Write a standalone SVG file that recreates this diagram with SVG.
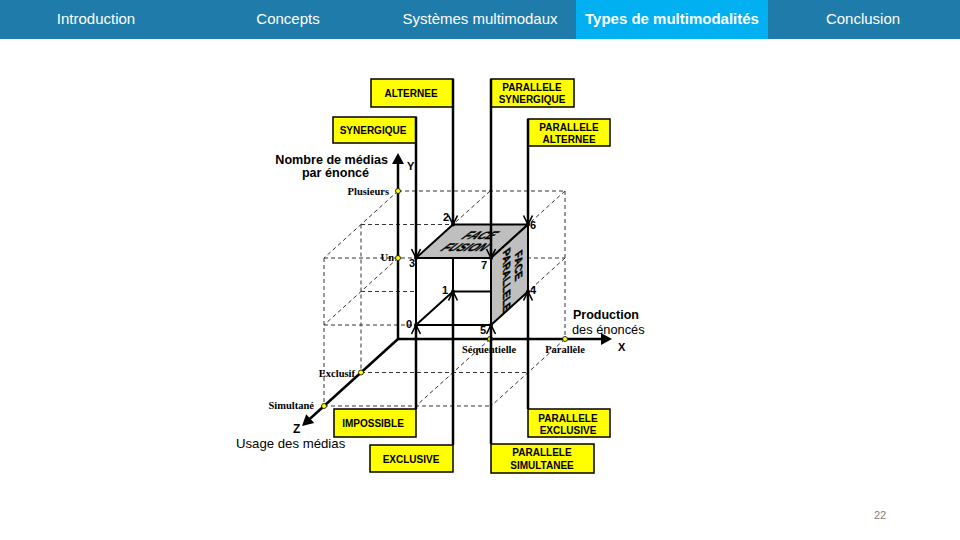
<svg xmlns="http://www.w3.org/2000/svg" width="960" height="540" viewBox="0 0 960 540">
<style>
.nav{font-family:"Liberation Sans",Arial,sans-serif;font-size:15px;fill:#fff;text-anchor:middle}
.box{fill:#ffff00;stroke:#000;stroke-width:1.5}
.bt{font-family:"Liberation Sans",Arial,sans-serif;font-size:10px;font-weight:bold;fill:#000;text-anchor:middle}
.dash{stroke:#333;stroke-width:1;stroke-dasharray:4 3;fill:none}
.axis{stroke:#000;stroke-width:2.5;fill:none}
.thick{stroke:#000;stroke-width:2.5;fill:none}
.edge{stroke:#000;stroke-width:2;fill:none}
.face{fill:#bfbfbf;stroke:#000;stroke-width:2;stroke-linejoin:round}
.serif{font-family:"Liberation Serif","Times New Roman",serif;font-size:10.5px;font-weight:bold;fill:#000}
.num{font-family:"Liberation Sans",Arial,sans-serif;font-size:11px;font-weight:bold;fill:#000}
.ax{font-family:"Liberation Sans",Arial,sans-serif;fill:#000}
.pt{fill:#ffff00;stroke:#000;stroke-width:0.8}
.ft{font-family:"Liberation Sans",Arial,sans-serif;font-style:italic;font-weight:bold;fill:#000;stroke:#000;stroke-width:0.4;text-anchor:middle}
</style>
<defs>
<marker id="v" viewBox="-11 -6 12 12" refX="0" refY="0" markerWidth="12" markerHeight="12" markerUnits="userSpaceOnUse" orient="auto">
<path d="M-9,-4.5 L0,0 L-9,4.5" fill="none" stroke="#000" stroke-width="1.6"/>
</marker>
<marker id="tri" viewBox="-8 -7 13 14" refX="0" refY="0" markerWidth="13" markerHeight="14" markerUnits="userSpaceOnUse" orient="auto">
<path d="M-7,-6 L4,0 L-7,6 Z" fill="#000"/>
</marker>
</defs>

<g id="header">
<rect x="0" y="0" width="960" height="39" fill="#1F7BAA"/>
<rect x="576" y="0" width="192" height="39" fill="#00B0F0"/>
<text class="nav" x="96" y="24">Introduction</text>
<text class="nav" x="288" y="24">Concepts</text>
<text class="nav" x="480" y="24">Systèmes multimodaux</text>
<text class="nav" x="672" y="24" font-weight="bold">Types de multimodalités</text>
<text class="nav" x="863" y="24">Conclusion</text>
</g>

<g id="grid">
<line class="dash" x1="398" y1="191" x2="565" y2="191"/>
<line class="dash" x1="361" y1="224.5" x2="453" y2="224.5"/>
<line class="dash" x1="324" y1="258" x2="565" y2="258"/>
<line class="dash" x1="361" y1="291.5" x2="453" y2="291.5"/>
<line class="dash" x1="324" y1="325" x2="416" y2="325"/>
<line class="dash" x1="361" y1="372.5" x2="528" y2="372.5"/>
<line class="dash" x1="324" y1="406" x2="491" y2="406"/>
<line class="dash" x1="361" y1="224.5" x2="361" y2="372.5"/>
<line class="dash" x1="324" y1="258" x2="324" y2="406"/>
<line class="dash" x1="565" y1="191" x2="565" y2="339"/>
<line class="dash" x1="398" y1="258" x2="324" y2="325"/>
<line class="dash" x1="398" y1="191" x2="324" y2="258"/>
<line class="dash" x1="490" y1="339" x2="416" y2="406"/>
<line class="dash" x1="490" y1="191" x2="453" y2="224.5"/>
<line class="dash" x1="565" y1="339" x2="491" y2="406"/>
<line class="dash" x1="565" y1="258" x2="528" y2="291.5"/>
<line class="dash" x1="565" y1="191" x2="528" y2="224.5"/>
</g>

<g id="axes">
<line class="axis" x1="398" y1="339" x2="398" y2="157" marker-end="url(#tri)"/>
<line class="axis" x1="398" y1="339" x2="608" y2="339" marker-end="url(#tri)"/>
<line class="axis" x1="398" y1="339" x2="305" y2="423.3" marker-end="url(#tri)"/>
<text class="ax" x="388" y="164" font-size="12.6" font-weight="bold" text-anchor="end">Nombre de médias</text>
<text class="ax" x="335.5" y="177" font-size="12.6" font-weight="bold" text-anchor="middle">par énoncé</text>
<text class="ax" x="407" y="170" font-size="11" font-weight="bold">Y</text>
<text class="ax" x="573" y="319" font-size="12.5" font-weight="bold">Production</text>
<text class="ax" x="572" y="334" font-size="12.8">des énoncés</text>
<text class="ax" x="618" y="351" font-size="11" font-weight="bold">X</text>
<text class="ax" x="293" y="433" font-size="12" font-weight="bold">Z</text>
<text class="ax" x="236" y="448" font-size="13.2">Usage des médias</text>
<text class="serif" x="389" y="195" text-anchor="end">Plusieurs</text>
<text class="serif" x="394" y="261" text-anchor="end">Un</text>
<text class="serif" x="355" y="377" text-anchor="end">Exclusif</text>
<text class="serif" x="314" y="409" text-anchor="end">Simultané</text>
<text class="serif" x="489" y="353" text-anchor="middle">Séquentielle</text>
<text class="serif" x="565" y="353" text-anchor="middle">Parallèle</text>
<circle class="pt" cx="398" cy="191" r="2.5"/>
<circle class="pt" cx="398" cy="258" r="2.5"/>
<circle class="pt" cx="361" cy="372.5" r="2.5"/>
<circle class="pt" cx="324" cy="406" r="2.5"/>
<circle class="pt" cx="490" cy="339" r="2.5"/>
<circle class="pt" cx="565" cy="339" r="2.5"/>
</g>

<g id="cube">
<polygon points="416,258 491,258 491,325 416,325" fill="#fff" stroke="none"/>
<line class="edge" x1="416" y1="325" x2="453" y2="291.5"/>
<line class="edge" x1="453" y1="291.5" x2="491" y2="291.5"/>
<line class="edge" x1="453" y1="291.5" x2="453" y2="258"/>
<polygon class="face" points="416,258 491,258 528,224.5 453,224.5"/>
<polygon class="face" points="491,258 528,224.5 528,291.5 491,325"/>
<polygon points="416,258 491,258 491,325 416,325" class="edge"/>
<g transform="translate(472,241) skewX(-48) scale(1,0.95)">
<text class="ft" x="2" y="-2" font-size="11.5">FACE</text>
<text class="ft" x="0" y="10" font-size="11.5">FUSION</text>
</g>
<g transform="matrix(0,1,-1,0.905,511,276)">
<text class="ft" x="-4" y="-4" font-size="10.5">FACE</text>
<text class="ft" x="0" y="8" font-size="10.5">PARALLELE</text>
</g>
<circle cx="416" cy="325" r="2"/>
<circle cx="453" cy="291.5" r="2"/>
<circle cx="453" cy="224.5" r="2"/>
<circle cx="416" cy="258" r="2"/>
<circle cx="528" cy="291.5" r="2"/>
<circle cx="491" cy="325" r="2"/>
<circle cx="528" cy="224.5" r="2"/>
<circle cx="491" cy="258" r="2"/>
<text class="num" x="406" y="328">0</text>
<text class="num" x="442" y="294">1</text>
<text class="num" x="443" y="221">2</text>
<text class="num" x="409" y="267">3</text>
<text class="num" x="530" y="294">4</text>
<text class="num" x="480" y="334">5</text>
<text class="num" x="530" y="229">6</text>
<text class="num" x="481" y="269">7</text>
</g>

<g id="n-alternee"><rect class="box" x="371" y="79" width="82" height="28"/><text class="bt" x="411" y="97">ALTERNEE</text></g>
<g id="n-synergique"><rect class="box" x="333" y="117" width="83" height="26"/><text class="bt" x="373" y="134">SYNERGIQUE</text></g>
<g id="n-par-syn"><rect class="box" x="491" y="79" width="83" height="28"/><text class="bt" x="532" y="91">PARALLELE</text><text class="bt" x="532" y="103">SYNERGIQUE</text></g>
<g id="n-par-alt"><rect class="box" x="528" y="119" width="82" height="27"/><text class="bt" x="569" y="131">PARALLELE</text><text class="bt" x="569" y="143">ALTERNEE</text></g>
<g id="n-impossible"><rect class="box" x="334" y="409" width="82" height="28"/><text class="bt" x="373" y="427">IMPOSSIBLE</text></g>
<g id="n-exclusive"><rect class="box" x="370" y="445" width="83" height="27"/><text class="bt" x="411" y="463">EXCLUSIVE</text></g>
<g id="n-par-exc"><rect class="box" x="528" y="409" width="82" height="28"/><text class="bt" x="568" y="422">PARALLELE</text><text class="bt" x="568" y="434">EXCLUSIVE</text></g>
<g id="n-par-sim"><rect class="box" x="491" y="444" width="103" height="29"/><text class="bt" x="542" y="456">PARALLELE</text><text class="bt" x="542" y="469">SIMULTANEE</text></g>

<g id="connectors">
<line class="thick" x1="453" y1="79" x2="453" y2="224.5" marker-end="url(#v)"/>
<line class="thick" x1="416" y1="117" x2="416" y2="258" marker-end="url(#v)"/>
<line class="thick" x1="491" y1="79" x2="491" y2="258" marker-end="url(#v)"/>
<line class="thick" x1="528" y1="119" x2="528" y2="224.5" marker-end="url(#v)"/>
<line class="thick" x1="416" y1="409" x2="416" y2="325" marker-end="url(#v)"/>
<line class="thick" x1="453" y1="445" x2="453" y2="291.5" marker-end="url(#v)"/>
<line class="thick" x1="528" y1="409" x2="528" y2="291.5" marker-end="url(#v)"/>
<line class="thick" x1="491" y1="444" x2="491" y2="325" marker-end="url(#v)"/>
</g>

<text x="880" y="519" font-family="Liberation Sans,Arial,sans-serif" font-size="11" fill="#7f7f7f" text-anchor="middle">22</text>
</svg>
